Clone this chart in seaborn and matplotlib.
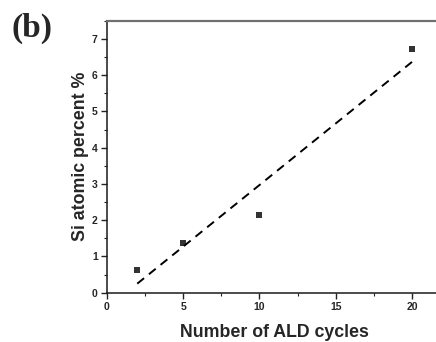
import matplotlib
matplotlib.use("Agg")
import matplotlib.pyplot as plt
from matplotlib.ticker import MultipleLocator
import numpy as np
import pandas as pd
import seaborn as sns

# Si content measured after each number of ALD cycles
ald_cycles = [2, 5, 10, 20]
si_percent = [0.62, 1.37, 2.15, 6.72]

df = pd.DataFrame({"cycles": ald_cycles, "si": si_percent})

sns.set_style("ticks")
plt.rcParams["font.family"] = ["Liberation Sans", "DejaVu Sans"]

fig = plt.figure(figsize=(4.36, 3.42), dpi=100)
ax = fig.add_axes([0.2447, 0.1442, 0.771, 0.795])

sns.regplot(
    data=df, x="cycles", y="si", ax=ax, ci=None, truncate=True,
    marker="s", color="black",
    scatter_kws={"s": 22, "linewidths": 0},
    line_kws={"linestyle": (0, (4.5, 3.2)), "linewidth": 1.4},
)

ax.set_xlim(0, 22)
ax.set_ylim(0, 7.5)
ax.xaxis.set_major_locator(MultipleLocator(5))
ax.xaxis.set_minor_locator(MultipleLocator(2.5))
ax.yaxis.set_major_locator(MultipleLocator(1))
ax.yaxis.set_minor_locator(MultipleLocator(0.5))

ax.tick_params(which="major", direction="out", length=4, width=1, color="#222222",
               labelsize=7.5, pad=2.5)
ax.tick_params(which="minor", direction="out", length=2.2, width=0.8, color="#222222")
for lab in ax.get_xticklabels() + ax.get_yticklabels():
    lab.set_fontweight("bold")

for side in ["left", "bottom"]:
    ax.spines[side].set_color("#1a1a1a")
    ax.spines[side].set_linewidth(1.1)
ax.spines["top"].set_color("#707070")
ax.spines["top"].set_linewidth(1.6)
ax.spines["right"].set_visible(False)

ax.set_xlabel("Number of ALD cycles", fontsize=12.8, fontweight="bold", labelpad=9)
ax.set_ylabel("Si atomic percent %", fontsize=12.8, fontweight="bold", labelpad=2)

fig.text(0.027, 0.962, "(b)", fontsize=24, fontweight="bold",
         family=["Liberation Serif", "DejaVu Serif"], va="top", ha="left")

fig.savefig("out.png", dpi=100, facecolor="white")
